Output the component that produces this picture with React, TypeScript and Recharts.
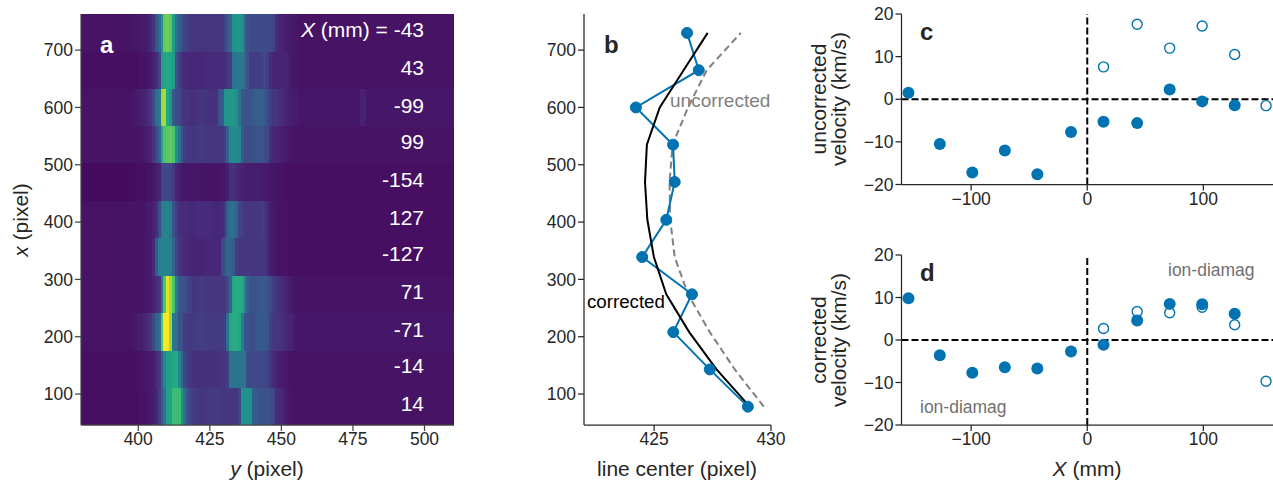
import { ComposedChart, Line, ReferenceArea, ReferenceLine, Scatter, ScatterChart, XAxis, YAxis } from 'recharts';

const W = 1273;
const H = 481;
const BLUE = '#0173b2';
const INK = '#262626';
const FONT = '"Liberation Sans", Arial, sans-serif';

// heatmap, percent of the colour range, columns y = 396..455, bottom row first
const firstColumn = 396;
const rowCenters = [78, 143, 208, 274, 339, 404, 470, 535, 600, 665, 730];
const rowM43 = [5,5,6,6,6,7,7,8,11,15,25,36,50,76,78,74,55,36,30,24,20,18,16,15,15,15,15,15,15,15,15,15,15,16,20,27,34,50,52,52,50,32,25,23,23,23,23,23,23,23,22,20,12,10,9,8,7,7,6,6];
const row43 = [4,4,4,4,5,5,5,6,7,9,12,20,55,58,60,58,55,25,18,13,12,11,11,11,11,11,11,11,12,12,12,12,12,12,12,15,18,38,40,40,40,34,25,18,18,18,18,20,22,18,12,10,10,10,10,10,9,7,6,6];
const rowM99 = [5,5,6,7,8,9,9,12,16,22,36,40,85,87,60,52,27,23,22,16,15,15,13,13,14,15,15,15,14,14,14,14,25,28,52,52,53,53,50,38,27,25,25,25,28,30,30,30,28,23,18,16,15,13,12,10,9,8,7,7];
const row99 = [5,5,5,5,6,6,7,8,10,15,22,30,60,72,74,75,72,50,38,25,18,16,16,16,16,17,17,17,16,16,16,16,16,16,18,30,47,48,47,46,27,23,23,23,24,25,25,25,23,22,13,11,10,9,8,7,7,6,5,5];
const rowM154 = [3,3,3,4,4,4,4,5,5,6,8,10,20,22,22,20,17,10,8,6,6,6,6,6,6,6,5,5,5,5,5,5,6,6,6,8,13,14,12,10,9,8,8,8,8,8,8,7,7,7,6,6,5,5,5,4,4,4,4,4];
const row127 = [5,5,5,5,5,5,6,7,7,9,13,24,42,44,44,42,25,18,13,12,12,12,11,11,12,12,12,12,12,12,11,11,11,12,16,30,36,37,32,20,18,16,16,16,16,16,16,18,16,12,8,7,6,5,5,5,5,4,4,4];
const rowM127 = [5,5,5,5,5,5,6,6,7,12,28,42,44,44,44,42,32,20,16,13,12,11,10,10,10,10,10,11,11,11,11,11,11,22,26,33,32,28,18,16,16,16,16,16,16,16,16,15,15,12,8,7,6,5,5,5,5,4,4,4];
const row71 = [5,5,5,5,5,5,6,6,7,9,12,15,38,72,96,86,72,40,27,25,25,20,18,16,16,17,17,17,16,16,16,16,16,16,16,22,32,60,62,62,60,42,32,25,25,25,27,28,28,25,22,18,16,13,12,10,8,7,6,5];
const rowM71 = [5,5,6,7,8,8,10,12,15,22,32,36,72,100,100,85,40,38,25,25,18,17,16,17,17,18,18,18,17,17,17,17,17,17,18,36,60,62,62,60,42,27,25,23,23,27,28,28,28,25,18,16,16,15,13,12,10,10,8,6];
const rowM14 = [4,4,4,4,5,5,6,6,7,8,12,16,32,45,55,56,60,60,45,32,23,18,15,14,14,14,14,14,14,14,14,14,14,15,16,18,38,38,38,38,38,38,23,22,22,22,22,22,21,20,16,12,10,8,7,7,6,5,5,5];
const row14 = [4,4,4,4,5,5,5,6,7,8,10,18,27,38,55,58,68,68,68,50,38,25,20,18,17,16,16,16,17,17,17,17,17,16,16,16,16,16,15,22,50,50,50,50,30,28,25,25,25,25,23,22,13,12,10,8,7,6,5,5];
const heatRows = [row14, rowM14, rowM71, row71, rowM127, row127, rowM154, row99, rowM99, row43, rowM43];
const tailLeft = [4, 4, 5, 5, 5, 5, 3, 5, 5, 4, 5];
const tailRight = [5, 5, 6, 5, 4, 4, 4, 5, 6, 5, 5];
const rowLabels = ['14', '-14', '-71', '71', '-127', '127', '-154', '99', '-99', '43', '-43'];

// panel b
const linePixel = [78, 143, 208, 274, 339, 404, 470, 535, 600, 665, 730];
const measured = [429.01, 427.38, 425.82, 426.62, 424.49, 425.52, 425.88, 425.81, 424.22, 426.91, 426.41];
const corrected = [429.09, 427.67, 426.5, 425.52, 424.99, 424.71, 424.61, 424.69, 425.24, 426.26, 427.29];
const uncorrected = [429.69, 428.45, 427.38, 426.45, 425.88, 425.69, 425.66, 425.79, 426.45, 427.25, 428.71];
const profileData = linePixel.map((row, i) => ({ row, measured: measured[i], corrected: corrected[i], uncorrected: uncorrected[i] }));

// panels c and d
const filledX = [-154, -127, -99, -71, -43, -14, 14, 43, 71, 99, 127];
const openX = [14, 43, 71, 99, 127, 154];
const uncorrFilled = [1.5, -10.5, -17.2, -12, -17.6, -7.7, -5.3, -5.6, 2.3, -0.5, -1.4];
const uncorrOpen = [7.6, 17.6, 12, 17.2, 10.5, -1.5];
const corrFilled = [9.8, -3.6, -7.7, -6.4, -6.7, -2.7, -1.1, 4.6, 8.5, 8.4, 6.2];
const corrOpen = [2.7, 6.7, 6.4, 7.7, 3.6, -9.7];

const viridisStops = ['#440154', '#482475', '#414487', '#355f8d', '#2a788e', '#21918c', '#22a884', '#44bf70', '#7ad151', '#bddf26', '#fde725'];

const viridis = (pct: number) => {
  const pos = Math.min(pct / 10, 9.999);
  const i = Math.floor(pos);
  const t = pos - i;
  const a = viridisStops[i];
  const b = viridisStops[i + 1];
  const ch = (k: number) => Math.round(parseInt(a.slice(k, k + 2), 16) * (1 - t) + parseInt(b.slice(k, k + 2), 16) * t);
  return `rgb(${ch(1)},${ch(3)},${ch(5)})`;
};

const tickStyle = { fill: INK, fontSize: 17.5, fontFamily: FONT };
const Frame = ({ children }: { children: any }) => (
  <div style={{ position: 'absolute', left: 0, top: 0, width: W, height: H }}>{children}</div>
);
const Txt = ({ x, y, size = 17.5, fill = INK, weight = 'normal', anchor = 'start', rotate = false, children }: any) => (
  <text
    x={x}
    y={y}
    fontSize={size}
    fill={fill}
    fontWeight={weight}
    textAnchor={anchor}
    fontFamily={FONT}
    transform={rotate ? `rotate(-90 ${x} ${y})` : undefined}
  >
    {children}
  </text>
);

const margins = (left: number, right: number, top: number, bottom: number) => ({
  left: left - 60,
  right: W - right,
  top,
  bottom: H - bottom - 40,
});

const HeatPanel = () => {
  const halfRow = 32.6;
  const cell = { fillOpacity: 1, stroke: 'none', shapeRendering: 'crispEdges', ifOverflow: 'hidden' } as any;
  return (
    <ScatterChart width={W} height={H} margin={margins(81, 454, 14, 425)}>
      <XAxis type="number" dataKey="y" domain={[380, 510.3]} ticks={[400, 425, 450, 475, 500]} allowDataOverflow tick={tickStyle} tickSize={6} stroke="#444" strokeWidth={1.25} height={40} />
      <YAxis type="number" dataKey="x" domain={[46, 763]} ticks={[100, 200, 300, 400, 500, 600, 700]} allowDataOverflow tick={tickStyle} tickSize={6} stroke="#444" strokeWidth={1.25} width={60} />
      {heatRows.map((row, r) => (
        <ReferenceArea key={`l${r}`} x1={380} x2={firstColumn - 0.2} y1={rowCenters[r] - halfRow} y2={rowCenters[r] + halfRow} fill={viridis(tailLeft[r])} {...cell} />
      ))}
      {heatRows.map((row, r) => (
        <ReferenceArea key={`r${r}`} x1={firstColumn + row.length - 0.2} x2={510.3} y1={rowCenters[r] - halfRow} y2={rowCenters[r] + halfRow} fill={viridis(tailRight[r])} {...cell} />
      ))}
      {heatRows.flatMap((row, r) =>
        row.map((v, c) => (
          <ReferenceArea key={`${r}-${c}`} x1={firstColumn + c - 0.2} x2={firstColumn + c + 0.8} y1={rowCenters[r] - halfRow} y2={rowCenters[r] + halfRow} fill={viridis(v)} {...cell} />
        )),
      )}
      <ReferenceArea x1={477.6} x2={479.6} y1={600 - halfRow} y2={600 + halfRow} fill={viridis(9)} {...cell} />
    </ScatterChart>
  );
};

const Annotations = () => (
  <svg width={W} height={H} style={{ position: 'absolute', left: 0, top: 0 }}>
    <Txt x={100} y={53} size={24} fill="#fff" weight="bold">a</Txt>
    <Txt x={424} y={37} size={21} fill="#fff" anchor="end">
      <tspan fontStyle="italic">X</tspan> (mm) = {rowLabels[10]}
    </Txt>
    {[75, 113, 149, 187, 225, 261, 299, 337, 373, 411].map((y, i) => (
      <Txt key={y} x={424} y={y} size={21} fill="#fff" anchor="end">{rowLabels[9 - i]}</Txt>
    ))}
    <Txt x={267} y={476} size={21} anchor="middle">
      <tspan fontStyle="italic">y</tspan> (pixel)
    </Txt>
    <Txt x={28} y={220} size={21} anchor="middle" rotate>
      <tspan fontStyle="italic">x</tspan> (pixel)
    </Txt>
    <Txt x={604} y={53} size={24} weight="bold">b</Txt>
    <Txt x={670} y={107} size={19} fill="#808080">uncorrected</Txt>
    <Txt x={587} y={308} size={18.7} fill="#000">corrected</Txt>
    <Txt x={677} y={476} size={21} anchor="middle">line center (pixel)</Txt>
    <Txt x={920} y={40} size={24} weight="bold">c</Txt>
    <Txt x={826} y={99} size={21} anchor="middle" rotate>uncorrected</Txt>
    <Txt x={846} y={99} size={21} anchor="middle" rotate>velocity (km/s)</Txt>
    <Txt x={920} y={281} size={24} weight="bold">d</Txt>
    <Txt x={826} y={340} size={21} anchor="middle" rotate>corrected</Txt>
    <Txt x={846} y={340} size={21} anchor="middle" rotate>velocity (km/s)</Txt>
    <Txt x={1168} y={276} fill="#707070">ion-diamag</Txt>
    <Txt x={920} y={413} fill="#707070">ion-diamag</Txt>
    <Txt x={1087} y={476} size={21} anchor="middle">
      <tspan fontStyle="italic">X</tspan> (mm)
    </Txt>
  </svg>
);

const ProfilePanel = () => (
  <ComposedChart layout="vertical" width={W} height={H} data={profileData} margin={margins(584, 771, 14, 425)}>
    <XAxis type="number" domain={[422, 430]} ticks={[425, 430]} allowDataOverflow tick={tickStyle} tickSize={6} stroke={INK} strokeWidth={1.25} height={40} />
    <YAxis type="number" dataKey="row" reversed domain={[46, 763]} ticks={[100, 200, 300, 400, 500, 600, 700]} allowDataOverflow tick={tickStyle} tickSize={6} stroke={INK} strokeWidth={1.25} width={60} />
    <Line dataKey="uncorrected" stroke="#808080" strokeWidth={2} strokeDasharray="7 4" dot={false} isAnimationActive={false} />
    <Line dataKey="measured" stroke={BLUE} strokeWidth={2} dot={{ r: 5.5, fill: BLUE, stroke: BLUE, strokeWidth: 1 }} isAnimationActive={false} />
    <Line dataKey="corrected" stroke="#000" strokeWidth={2} dot={false} isAnimationActive={false} />
  </ComposedChart>
);

const filledDot = (p: any) => <circle cx={p.cx} cy={p.cy} r={6} fill={BLUE} />;
const openDot = (p: any) => <circle cx={p.cx} cy={p.cy} r={5} fill="#fff" stroke={BLUE} strokeWidth={1.4} />;

const VelocityPanel = ({ top, bottom, filled, open }: { top: number; bottom: number; filled: number[]; open: number[] }) => (
  <ScatterChart width={W} height={H} margin={margins(901.5, 1273, top, bottom)}>
    <XAxis type="number" dataKey="X" domain={[-160, 160]} ticks={[-100, 0, 100]} allowDataOverflow tick={tickStyle} tickFormatter={(v: number) => String(v).replace('-', '\u2212')} tickSize={6} stroke={INK} strokeWidth={1.25} height={40} />
    <YAxis type="number" dataKey="v" domain={[-20, 20]} ticks={[-20, -10, 0, 10, 20]} allowDataOverflow tick={tickStyle} tickFormatter={(v: number) => String(v).replace('-', '\u2212')} tickSize={6} stroke={INK} strokeWidth={1.25} width={60} />
    <ReferenceLine x={0} stroke="#000" strokeWidth={2} strokeDasharray="7 3" />
    <ReferenceLine y={0} stroke="#000" strokeWidth={2} strokeDasharray="7 3" />
    <Scatter data={openX.map((X, i) => ({ X, v: open[i] }))} shape={openDot} isAnimationActive={false} />
    <Scatter data={filledX.map((X, i) => ({ X, v: filled[i] }))} shape={filledDot} isAnimationActive={false} />
  </ScatterChart>
);

export default function App() {
  return (
    <div style={{ position: 'absolute', left: 0, top: 0, width: W, height: H, overflow: 'hidden', background: '#fff' }}>
      <Frame><HeatPanel /></Frame>
      <Frame><ProfilePanel /></Frame>
      <Frame><VelocityPanel top={14} bottom={184.5} filled={uncorrFilled} open={uncorrOpen} /></Frame>
      <Frame><VelocityPanel top={255} bottom={425} filled={corrFilled} open={corrOpen} /></Frame>
      <Annotations />
    </div>
  );
}
